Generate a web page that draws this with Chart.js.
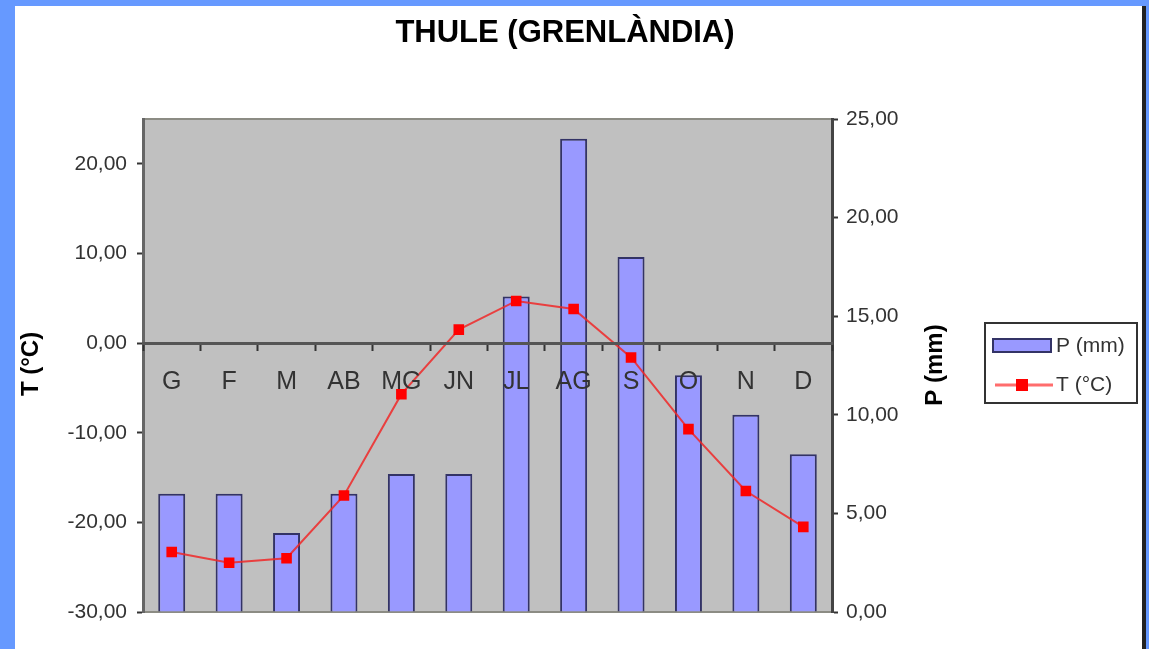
<!DOCTYPE html>
<html>
<head>
<meta charset="utf-8">
<script src="https://cdn.jsdelivr.net/npm/chart.js@4"></script>
<style>
  html, body { margin: 0; padding: 0; background: #6699FF; }
  #wrap { position: absolute; left: 0; top: 0; width: 1149px; height: 649px; }
</style>
</head>
<body>
<div id="wrap"><canvas id="chart" width="1149" height="649"></canvas></div>
<script>
// Data
const months = ['G', 'F', 'M', 'AB', 'MG', 'JN', 'JL', 'AG', 'S', 'O', 'N', 'D'];
const precip = [6, 6, 4, 6, 7, 7, 16, 24, 18, 12, 10, 8];           // P (mm)
const temp = [-23.3, -24.5, -24.0, -17.0, -5.7, 1.5, 4.7, 3.8, -1.6, -9.6, -16.5, -20.5]; // T (°C)
const tempTicks = [-30, -20, -10, 0, 10, 20];
const precipTicks = [0, 5, 10, 15, 20, 25];

const FONT = '"Liberation Sans", Arial, sans-serif';
const fmt = v => Number(v).toFixed(2).replace('.', ',');

// frame, plot background, title, axis titles and legend
const decor = {
    id: 'decor',
    beforeDraw(chart) {
        const ctx = chart.ctx;
        const a = chart.chartArea;
        ctx.save();
        ctx.fillStyle = '#6699FF';
        ctx.fillRect(0, 0, 1149, 649);
        ctx.fillStyle = '#FFFFFF';
        ctx.fillRect(15, 6, 1127, 643);
        ctx.fillStyle = '#222222';
        ctx.fillRect(1142, 6, 4, 643);
        ctx.fillStyle = '#C0C0C0';
        ctx.fillRect(a.left, a.top, a.right - a.left, a.bottom - a.top);
        ctx.strokeStyle = '#8c8c84';
        ctx.lineWidth = 2;
        ctx.beginPath();
        ctx.moveTo(a.left, a.top);
        ctx.lineTo(a.right, a.top);
        ctx.moveTo(a.left, a.bottom);
        ctx.lineTo(a.right, a.bottom);
        ctx.stroke();
        ctx.restore();
    },
    afterDraw(chart) {
        const ctx = chart.ctx;
        ctx.save();
        ctx.fillStyle = '#000000';
        ctx.textAlign = 'center';
        ctx.textBaseline = 'middle';
        ctx.font = 'bold 31px ' + FONT;
        ctx.fillText('THULE (GRENLÀNDIA)', 565, 33);

        ctx.font = 'bold 24px ' + FONT;
        ctx.save();
        ctx.translate(31, 364);
        ctx.rotate(-Math.PI / 2);
        ctx.fillText('T (°C)', 0, 0);
        ctx.restore();
        ctx.save();
        ctx.translate(935, 365);
        ctx.rotate(-Math.PI / 2);
        ctx.fillText('P (mm)', 0, 0);
        ctx.restore();

        // legend
        ctx.fillStyle = '#FFFFFF';
        ctx.fillRect(985, 323, 152, 80);
        ctx.strokeStyle = '#333333';
        ctx.lineWidth = 2;
        ctx.strokeRect(985, 323, 152, 80);
        ctx.fillStyle = '#9999FF';
        ctx.fillRect(993, 339, 58, 13);
        ctx.strokeStyle = '#333366';
        ctx.strokeRect(993, 339, 58, 13);
        ctx.strokeStyle = 'rgba(255,60,60,0.75)';
        ctx.lineWidth = 3;
        ctx.beginPath();
        ctx.moveTo(995, 385);
        ctx.lineTo(1053, 385);
        ctx.stroke();
        ctx.fillStyle = '#FF0000';
        ctx.fillRect(1016, 379, 12, 12);
        ctx.fillStyle = '#333333';
        ctx.textAlign = 'left';
        ctx.font = '21px ' + FONT;
        ctx.fillText('P (mm)', 1056, 346);
        ctx.fillText('T (°C)', 1056, 385);
        ctx.restore();
    }
};

const ctx = document.getElementById('chart').getContext('2d');
new Chart(ctx, {
    data: {
        labels: months,
        datasets: [{
            type: 'line',
            label: 'T (°C)',
            data: temp,
            yAxisID: 'y',
            order: 1,
            borderColor: 'rgba(240,40,40,0.85)',
            borderWidth: 2,
            pointStyle: 'rect',
            pointRadius: 7.5,
            pointBackgroundColor: '#FF0000',
            pointBorderColor: '#FF0000',
            pointBorderWidth: 0,
            tension: 0
        }, {
            type: 'bar',
            label: 'P (mm)',
            data: precip,
            yAxisID: 'y1',
            order: 2,
            backgroundColor: '#9999FF',
            borderColor: '#333366',
            borderWidth: 2,
            categoryPercentage: 1,
            barPercentage: 0.47
        }]
    },
    options: {
        responsive: false,
        animation: false,
        layout: { padding: { top: 119, bottom: 37, left: 0, right: 0 } },
        plugins: {
            legend: { display: false },
            title: { display: false },
            tooltip: { enabled: false }
        },
        scales: {
            x: {
                position: { y: 0 },
                offset: true,
                grid: {
                    z: 1,
                    offset: true,
                    drawOnChartArea: false,
                    drawTicks: true,
                    tickLength: 6,
                    tickWidth: 2,
                    tickColor: '#333333'
                },
                border: { display: true, color: '#555555', width: 3, z: 1 },
                ticks: {
                    z: 1,
                    color: '#333333',
                    font: { family: FONT, size: 25 },
                    padding: 18,
                    maxRotation: 0,
                    autoSkip: false
                }
            },
            y: {
                position: 'left',
                min: -30,
                max: 25,
                afterBuildTicks: s => { s.ticks = tempTicks.map(v => ({ value: v })); },
                afterFit: s => { s.width = 143; },
                grid: {
                    drawOnChartArea: false,
                    tickLength: 6,
                    tickWidth: 2,
                    tickColor: '#333333'
                },
                border: { display: true, color: '#666666', width: 3 },
                ticks: {
                    color: '#333333',
                    font: { family: FONT, size: 21 },
                    padding: 10,
                    callback: v => fmt(v)
                }
            },
            y1: {
                position: 'right',
                min: 0,
                max: 25,
                afterBuildTicks: s => { s.ticks = precipTicks.map(v => ({ value: v })); },
                afterFit: s => { s.width = 317; },
                grid: {
                    drawOnChartArea: false,
                    tickLength: 6,
                    tickWidth: 2,
                    tickColor: '#333333'
                },
                border: { display: true, color: '#444444', width: 3 },
                ticks: {
                    color: '#333333',
                    font: { family: FONT, size: 21 },
                    padding: 8,
                    callback: v => fmt(v)
                }
            }
        }
    },
    plugins: [decor]
});
</script>
</body>
</html>
